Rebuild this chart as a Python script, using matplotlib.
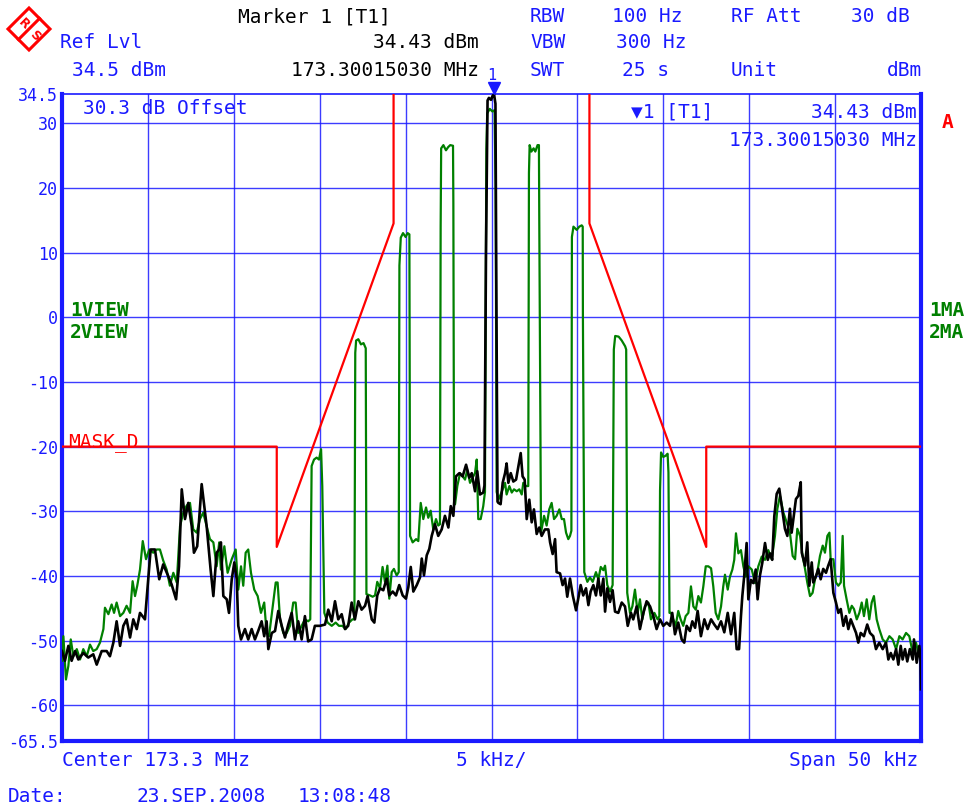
import matplotlib
matplotlib.use("Agg")
import matplotlib.pyplot as plt
from matplotlib.patches import Polygon
from matplotlib.lines import Line2D

# ---------------- data (frequency offset from 173.3 MHz in kHz, level in dBm) ----------------
black_f = [-25.00, -24.83, -24.63, -24.44, -24.24, -24.05, -23.76, -23.47, -23.18, -22.98, -22.69, -22.40,
           -22.21, -22.01, -21.82, -21.62, -21.43, -21.24, -21.04, -20.85, -20.65, -20.46, -20.17, -20.03,
           -19.84, -19.59, -19.34, -19.11, -18.82, -18.62, -18.36, -18.19, -18.03, -17.84, -17.65, -17.45,
           -17.32, -17.13, -16.87, -16.58, -16.35, -16.19, -16.00, -15.85, -15.75, -15.61, -15.41, -15.28,
           -15.12, -14.97, -14.83, -14.74, -14.58, -14.35, -14.16, -13.96, -13.77, -13.58, -13.38, -13.23,
           -13.09, -12.99, -12.79, -12.60, -12.41, -12.21, -12.02, -11.83, -11.63, -11.44, -11.25, -11.05,
           -10.86, -10.67, -10.47, -10.28, -9.98, -9.69, -9.50, -9.30, -9.11, -8.92, -8.72, -8.53, -8.34,
           -8.14, -7.95, -7.75, -7.56, -7.36, -7.21, -6.97, -6.82, -6.65, -6.49, -6.30, -6.10, -5.95, -5.75,
           -5.56, -5.37, -5.17, -4.98, -4.84, -4.70, -4.55, -4.35, -4.16, -4.06, -3.93, -3.77, -3.62, -3.48,
           -3.29, -3.10, -2.90, -2.71, -2.51, -2.37, -2.22, -2.07, -1.87, -1.68, -1.48, -1.29, -1.15, -0.96,
           -0.83, -0.67, -0.48, -0.41, -0.32, -0.23, -0.15, -0.03, 0.06, 0.15, 0.23, 0.29, 0.35, 0.40, 0.53,
           0.65, 0.79, 0.88, 0.98, 1.12, 1.27, 1.43, 1.56, 1.70, 1.81, 1.93, 2.05, 2.20, 2.34, 2.47, 2.63,
           2.78, 2.92, 3.11, 3.31, 3.41, 3.56, 3.70, 3.79, 3.99, 4.14, 4.28, 4.41, 4.57, 4.73, 4.92, 5.05,
           5.19, 5.34, 5.50, 5.64, 5.77, 5.93, 6.08, 6.22, 6.36, 6.51, 6.61, 6.74, 6.90, 7.05, 7.19, 7.38,
           7.58, 7.77, 7.93, 8.12, 8.25, 8.45, 8.64, 8.84, 9.03, 9.23, 9.42, 9.61, 9.81, 10.00, 10.20, 10.39,
           10.52, 10.68, 10.87, 11.07, 11.22, 11.36, 11.55, 11.69, 11.85, 12.00, 12.19, 12.39, 12.58, 12.78,
           12.97, 13.16, 13.36, 13.55, 13.75, 13.94, 14.13, 14.27, 14.41, 14.52, 14.60, 14.71, 14.85, 14.95,
           15.10, 15.24, 15.38, 15.49, 15.62, 15.76, 15.92, 16.08, 16.21, 16.34, 16.46, 16.60, 16.75, 16.89,
           17.08, 17.22, 17.37, 17.47, 17.57, 17.72, 17.86, 18.00, 18.06, 18.25, 18.38, 18.50, 18.64, 18.73,
           18.89, 19.02, 19.16, 19.31, 19.47, 19.60, 19.74, 19.90, 20.05, 20.19, 20.33, 20.48, 20.63, 20.77,
           20.91, 21.06, 21.22, 21.35, 21.49, 21.68, 21.87, 22.03, 22.22, 22.38, 22.57, 22.77, 22.96, 23.10,
           23.24, 23.39, 23.55, 23.68, 23.82, 23.93, 24.07, 24.20, 24.35, 24.52, 24.59, 24.75, 24.90, 24.97,
           25.00]
black_l = [-51.6, -53.1, -50.8, -53.1, -51.6, -52.9, -51.9, -52.6, -52.1, -53.7, -51.6, -51.6,
           -52.4, -50.3, -47.0, -50.8, -47.7, -46.7, -49.5, -46.7, -48.2, -45.7, -46.7, -42.1,
           -35.9, -35.9, -40.5, -38.2, -40.0, -41.3, -43.6, -38.5, -26.6, -31.2, -28.7, -32.3,
           -36.4, -35.4, -25.8, -32.3, -39.0, -43.1, -36.4, -35.9, -34.8, -43.1, -43.6, -45.7,
           -40.5, -37.9, -40.5, -47.7, -49.8, -48.2, -49.8, -48.2, -49.8, -48.5, -47.0, -49.3,
           -47.0, -51.3, -48.8, -48.5, -45.4, -47.7, -49.5, -47.5, -45.7, -49.8, -47.0, -49.8,
           -46.2, -50.1, -49.8, -47.7, -47.7, -47.5, -45.2, -47.0, -43.9, -46.7, -45.9, -48.2, -47.7,
           -44.1, -46.7, -43.9, -45.2, -44.6, -43.1, -46.7, -47.2, -43.0, -41.9, -42.2, -40.4, -43.0, -42.4,
           -43.0, -41.4, -43.0, -43.5, -41.7, -38.6, -42.4, -41.4, -40.2, -37.3, -39.9, -36.8, -35.8, -33.8,
           -32.0, -33.8, -32.8, -30.7, -32.5, -29.2, -30.7, -24.6, -24.1, -24.6, -22.8, -24.8, -24.1, -26.9,
           -23.8, -27.4, -27.1, -26.0, 10.0, 33.5, 33.9, 33.6, 34.2, 34.43, 33.0, 0.0, -28.5, -28.7, -28.9,
           -25.6, -24.1, -22.6, -25.6, -24.1, -25.4, -25.1, -23.1, -21.0, -24.6, -25.1, -31.2, -28.2, -31.7, -29.7, -33.5,
           -32.5, -33.8, -32.8, -32.8, -34.8, -36.6, -34.3, -39.4, -39.6, -41.4, -40.4, -43.2, -40.4, -43.0, -45.3, -43.5,
           -41.4, -43.0, -41.9, -44.5, -42.4, -41.4, -43.0, -40.4, -43.0, -40.4, -45.5, -41.9, -44.0, -42.2, -45.5, -45.7,
           -44.1, -44.7, -47.7, -45.7, -46.7, -44.7, -48.2, -45.7, -43.9, -44.7, -46.2, -48.2, -46.7, -47.7, -47.2, -47.7,
           -45.7, -49.0, -47.2, -49.8, -50.3, -47.7, -48.5, -47.0, -48.0, -45.4, -49.3, -46.7, -48.2, -46.7,
           -47.5, -48.2, -47.0, -48.7, -45.7, -49.0, -45.7, -51.3, -51.3, -46.2, -43.1, -40.0, -34.9, -43.6,
           -40.6, -41.1, -39.0, -43.6, -40.0, -38.0, -34.9, -37.5, -36.5, -37.5, -30.8, -27.3, -26.5, -29.1,
           -32.7, -33.8, -29.6, -33.3, -31.2, -28.1, -27.6, -25.5, -36.4, -38.4, -34.8, -41.5, -37.9, -41.0,
           -40.0, -38.9, -40.5, -38.9, -39.5, -38.4, -37.4, -42.6, -44.1, -45.7, -45.1, -47.7, -46.2, -48.2,
           -46.7, -47.7, -48.8, -50.3, -48.8, -49.3, -47.5, -48.8, -49.3, -51.3, -50.3, -51.3, -50.3, -52.9,
           -51.9, -52.9, -51.3, -53.7, -50.8, -52.9, -51.3, -53.2, -51.3, -52.9, -49.8, -53.4, -50.8, -52.9,
           -57.5]

green_f = [-25.00, -24.92, -24.77, -24.63, -24.49, -24.34, -24.14, -23.95, -23.76, -23.56, -23.37, -23.18,
           -22.98, -22.79, -22.59, -22.50, -22.30, -22.11, -21.97, -21.82, -21.62, -21.43, -21.24, -21.04,
           -20.89, -20.75, -20.62, -20.46, -20.30, -20.11, -19.92, -19.69, -19.49, -19.30, -19.11, -18.91,
           -18.72, -18.52, -18.32, -18.13, -17.94, -17.74, -17.55, -17.36, -17.16, -16.97, -16.78, -16.58,
           -16.39, -16.19, -16.00, -15.85, -15.75, -15.55, -15.36, -15.12, -14.89, -14.74, -14.58, -14.45,
           -14.31, -14.16, -14.00, -13.81, -13.61, -13.42, -13.23, -13.09, -12.95, -12.76, -12.56, -12.45,
           -12.31, -12.12, -11.92, -11.73, -11.54, -11.40, -11.25, -11.05, -10.86, -10.67, -10.55, -10.47,
           -10.33, -10.18, -10.04, -9.92, -9.85, -9.73, -9.54, -9.30, -9.07, -8.88, -8.68, -8.49, -8.29,
           -8.10, -7.98, -7.93, -7.88, -7.75, -7.60, -7.45, -7.32, -7.28, -7.07, -6.92, -6.78, -6.65, -6.49,
           -6.34, -6.20, -6.06, -5.95, -5.81, -5.68, -5.52, -5.40, -5.36, -5.28, -5.15, -5.00, -4.88, -4.78,
           -4.74, -4.59, -4.39, -4.26, -4.12, -3.97, -3.81, -3.68, -3.54, -3.39, -3.23, -3.10, -3.00, -2.96,
           -2.93, -2.80, -2.65, -2.52, -2.40, -2.24, -2.22, -2.18, -2.12, -1.99, -1.83, -1.68, -1.54, -1.41,
           -1.25, -1.10, -0.96, -0.86, -0.77, -0.63, -0.48, -0.38, -0.30, -0.25, -0.10, 0.05, 0.18, 0.24,
           0.30, 0.40, 0.53, 0.65, 0.79, 0.88, 1.04, 1.18, 1.31, 1.47, 1.62, 1.76, 1.85, 2.01, 2.14, 2.18,
           2.22, 2.32, 2.45, 2.55, 2.68, 2.76, 2.78, 2.88, 3.06, 3.21, 3.36, 3.50, 3.64, 3.79, 3.95, 4.09,
           4.22, 4.34, 4.47, 4.57, 4.65, 4.68, 4.77, 4.96, 5.11, 5.25, 5.31, 5.32, 5.40, 5.58, 5.73, 5.89,
           6.08, 6.22, 6.36, 6.51, 6.61, 6.74, 6.90, 7.05, 7.12, 7.20, 7.40, 7.58, 7.78, 7.84, 7.90, 8.06,
           8.20, 8.35, 8.51, 8.64, 8.78, 8.93, 9.13, 9.28, 9.48, 9.67, 9.77, 9.81, 9.87, 10.00, 10.14, 10.25,
           10.30, 10.36, 10.45, 10.58, 10.72, 10.87, 11.01, 11.16, 11.30, 11.46, 11.61, 11.75, 11.89, 12.04,
           12.19, 12.33, 12.47, 12.62, 12.78, 12.91, 13.05, 13.20, 13.36, 13.49, 13.59, 13.75, 13.88, 14.02,
           14.13, 14.23, 14.37, 14.52, 14.66, 14.80, 14.95, 15.15, 15.34, 15.53, 15.73, 15.92, 16.11, 16.31,
           16.50, 16.64, 16.79, 16.99, 17.18, 17.37, 17.53, 17.67, 17.80, 17.96, 18.11, 18.25, 18.38, 18.54,
           18.69, 18.83, 18.96, 19.12, 19.28, 19.41, 19.55, 19.67, 19.74, 19.90, 20.05, 20.19, 20.33, 20.44,
           20.52, 20.67, 20.83, 20.97, 21.10, 21.26, 21.41, 21.55, 21.68, 21.84, 21.99, 22.13, 22.26, 22.42,
           22.57, 22.77, 22.96, 23.16, 23.35, 23.55, 23.74, 23.93, 24.13, 24.32, 24.52, 24.71, 24.90, 25.00]
green_l = [-53.1, -49.3, -56.0, -53.9, -49.8, -52.4, -51.3, -52.9, -51.3, -52.4, -50.6, -51.6,
           -51.3, -50.3, -48.2, -44.9, -45.9, -44.4, -45.7, -44.1, -46.2, -45.7, -44.6, -45.7,
           -40.8, -43.1, -41.5, -39.0, -34.6, -37.4, -35.9, -36.4, -35.9, -35.9, -37.6, -39.0,
           -41.5, -39.5, -41.0, -32.3, -30.2, -29.1, -28.7, -32.8, -33.3, -31.2, -30.2, -32.3,
           -34.3, -34.8, -38.5, -34.8, -39.0, -35.4, -39.5, -37.4, -35.9, -42.1, -38.5, -41.5,
           -36.4, -35.9, -39.5, -42.1, -43.1, -45.7, -44.1, -48.8, -49.3, -45.2, -41.0, -41.0,
           -46.7, -48.8, -48.8, -47.7, -44.1, -44.1, -48.8, -47.7, -46.7, -47.0, -46.7, -23.0,
           -22.0, -21.7, -22.0, -20.4, -26.1, -45.7, -47.2, -47.7, -47.2, -47.7, -47.7, -48.2, -47.2,
           -46.7, -46.7, -5.5, -3.6, -3.4, -4.2, -4.0, -4.8, -42.8, -43.0, -43.2, -43.0, -40.9, -41.9,
           -38.6, -40.9, -38.4, -43.5, -39.4, -38.9, -39.9, -39.4, 8.0, 12.3, 13.0, 12.4, 13.0, 12.8,
           -33.8, -34.8, -34.3, -34.6, -28.7, -31.2, -29.4, -31.0, -29.9, -32.8, -31.2, -32.2, -32.0, 14.0,
           26.1, 26.6, 25.8, 26.3, 26.6, 26.5, 17.6, -29.0, -28.9, -26.1, -24.1, -24.6, -25.1, -23.6,
           -25.6, -24.8, -24.1, -22.0, -31.2, -31.2, -29.2, -27.0, 26.0, 31.5, 32.2, 31.8, 32.0, 20.0,
           -27.0, -28.2, -27.4, -26.6, -25.6, -27.4, -26.1, -27.1, -26.6, -26.9, -26.6, -27.4, -25.6, -26.1, -26.1, 22.3,
           26.6, 25.6, 26.1, 25.6, 26.6, 26.6, 15.5, -33.3, -30.7, -32.2, -29.7, -28.7, -31.2, -30.7, -29.7, -31.2,
           -31.2, -33.3, -34.3, -33.8, -33.0, 12.4, 14.0, 13.5, 14.0, 14.2, 14.0, 0.6, -39.4, -40.9, -40.2, -40.9,
           -39.4, -40.5, -38.6, -39.1, -38.4, -41.4, -42.4, -41.4, -5.0, -2.9, -3.0, -3.6, -4.5, -5.0, -42.6, -45.7,
           -44.7, -42.1, -45.7, -43.6, -46.7, -44.7, -44.1, -46.7, -45.7, -46.7, -46.2, -26.8, -20.9, -21.6, -21.4, -21.1,
           -24.0, -45.7, -45.7, -46.7, -47.7, -45.4, -46.7, -47.7, -46.2, -45.7, -41.6, -44.7, -45.2, -43.1,
           -44.1, -41.6, -38.5, -38.5, -38.8, -41.6, -45.7, -46.7, -44.7, -41.6, -39.8, -42.1, -40.1, -39.0,
           -37.5, -33.4, -36.5, -36.0, -38.5, -40.1, -38.5, -39.0, -41.1, -38.5, -37.0, -37.5, -36.0, -37.4,
           -33.8, -29.6, -27.6, -30.2, -31.7, -33.3, -36.9, -37.4, -32.7, -33.8, -36.9, -38.9, -41.0, -43.1,
           -42.6, -40.5, -39.5, -36.9, -35.3, -36.4, -33.8, -33.3, -37.4, -37.4, -41.0, -41.5, -41.0, -33.8,
           -41.5, -43.6, -45.7, -44.6, -45.1, -46.7, -45.7, -44.1, -46.2, -43.6, -46.7, -44.1, -43.1, -46.7,
           -48.2, -49.8, -50.3, -49.3, -49.8, -51.3, -49.3, -49.8, -48.8, -49.3, -51.9, -50.3, -52.4, -51.3]

mask_f = [-25.0, -12.5, -12.5, -5.7, -5.7, 5.7, 5.7, 12.5, 12.5, 25.0]
mask_l = [-20.0, -20.0, -35.5, 14.5, 45.0, 45.0, 14.5, -35.5, -20.0, -20.0]

ytick_vals = [34.5, 30, 20, 10, 0, -10, -20, -30, -40, -50, -60, -65.5]
ytick_labels = ["34.5", "30", "20", "10", "0", "-10", "-20", "-30", "-40", "-50", "-60", "-65.5"]
xgrid_vals = [-20, -15, -10, -5, 0, 5, 10, 15, 20]
marker_f = 0.15
marker_l = 34.5

# ---------------- figure ----------------
W, H = 969, 807
BLUE = "#1a1aff"
GREEN = "#008000"
RED = "#ff0000"
FONT = "DejaVu Sans Mono"

fig = plt.figure(figsize=(W / 100, H / 100), dpi=100)
fig.patch.set_facecolor("white")


def fx(px):
    return px / W


def fy(py):
    return 1 - py / H


ax = fig.add_axes([fx(62), fy(741), (921 - 62) / W, (741 - 94) / H])
ax.set_xlim(-25, 25)
ax.set_ylim(-65.5, 34.5)

for v in xgrid_vals:
    ax.axvline(v, color=BLUE, lw=1.0, alpha=0.85, zorder=1)
for v in ytick_vals[1:-1]:
    ax.axhline(v, color=BLUE, lw=1.0, alpha=0.85, zorder=1)

ax.plot(mask_f, mask_l, color=RED, lw=1.6, zorder=3)
ax.plot(green_f, green_l, color=GREEN, lw=1.6, zorder=4)
ax.plot(black_f, black_l, color="black", lw=1.9, zorder=5)

ax.plot([marker_f], [marker_l + 0.9], marker="v", color=BLUE, markersize=8, clip_on=False, zorder=6)

ax.set_xticks([])
ax.set_yticks(ytick_vals)
ax.set_yticklabels(ytick_labels, fontsize=12, color=BLUE, family=FONT)
ax.tick_params(axis="y", length=0, pad=3)
for s in ax.spines.values():
    s.set_color(BLUE)
    s.set_linewidth(1.2)
ax.spines["left"].set_linewidth(3)
ax.spines["bottom"].set_linewidth(3)
ax.spines["right"].set_linewidth(3)


def txt(px, py, s, color=BLUE, ha="left", size=14, weight="normal"):
    fig.text(fx(px), fy(py), s, color=color, ha=ha, va="center", fontsize=size,
             family=FONT, fontweight=weight)


# header
txt(238, 17, "Marker 1 [T1]", color="black")
txt(60, 43, "Ref Lvl")
txt(479, 43, "34.43 dBm", color="black", ha="right")
txt(72, 70, "34.5 dBm")
txt(479, 70, "173.30015030 MHz", color="black", ha="right")
txt(530, 17, "RBW")
txt(682, 17, "100 Hz", ha="right")
txt(731, 17, "RF Att")
txt(910, 17, "30 dB", ha="right")
txt(530, 43, "VBW")
txt(686, 43, "300 Hz", ha="right")
txt(530, 70, "SWT")
txt(669, 70, "25 s", ha="right")
txt(731, 70, "Unit")
txt(922, 70, "dBm", ha="right")
txt(492, 76, "1", size=11, ha="center")

# inside plot
txt(83, 109, "30.3 dB Offset")
txt(631, 112, "\u25bc1 [T1]")
txt(917, 112, "34.43 dBm", ha="right")
txt(917, 140, "173.30015030 MHz", ha="right")
txt(70, 310, "1VIEW", color=GREEN, weight="bold")
txt(70, 333, "2VIEW", color=GREEN, weight="bold")
txt(68, 443, "MASK_D", color=RED)

# right side
txt(942, 123, "A", color=RED, weight="bold")
txt(929, 310, "1MA", color=GREEN, weight="bold")
txt(929, 333, "2MA", color=GREEN, weight="bold")

# footer
txt(62, 761, "Center 173.3 MHz")
txt(456, 761, "5 kHz/")
txt(918, 761, "Span 50 kHz", ha="right")
txt(8, 796, "Date:")
txt(137, 796, "23.SEP.2008")
txt(298, 796, "13:08:48")

# R&S logo (decoration)
cx, cy, r = 29, 29, 21
diamond = Polygon([(fx(cx), fy(cy - r)), (fx(cx + r), fy(cy)), (fx(cx), fy(cy + r)), (fx(cx - r), fy(cy))],
                  closed=True, fill=False, edgecolor=RED, lw=2.2, transform=fig.transFigure)
fig.add_artist(diamond)
fig.add_artist(Line2D([fx(cx - r / 2), fx(cx + r / 2)], [fy(cy + r / 2), fy(cy - r / 2)],
                      color=RED, lw=2.2, transform=fig.transFigure))
fig.text(fx(24), fy(24), "R", color=RED, fontsize=9, ha="center", va="center", rotation=-45,
         family="DejaVu Sans", fontweight="bold")
fig.text(fx(35), fy(36), "S", color=RED, fontsize=9, ha="center", va="center", rotation=-45,
         family="DejaVu Sans", fontweight="bold")

fig.savefig("out.png", dpi=100)
